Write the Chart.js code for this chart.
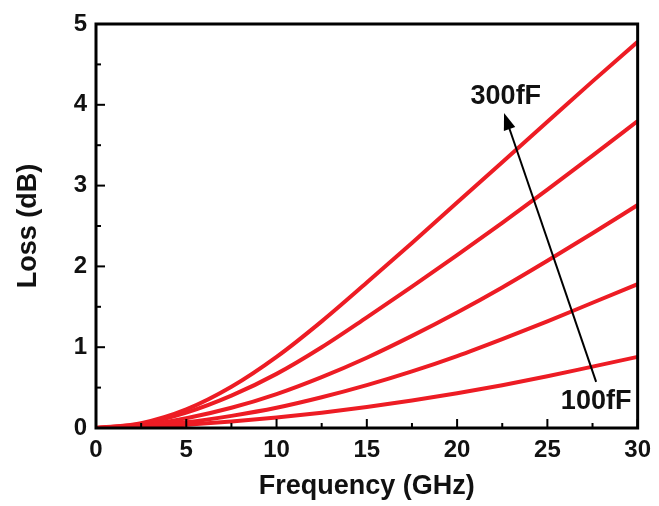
<!DOCTYPE html>
<html>
<head>
<meta charset="utf-8">
<script src="https://cdn.jsdelivr.net/npm/chart.js@4/dist/chart.umd.min.js"></script>
<style>
    body { margin: 0; background: #fff; }
    #wrap { width: 659px; height: 506px; }
</style>
</head>
<body>
<div id="wrap"><canvas id="chart-loss" width="659" height="506"></canvas></div>
<script>
// frequency points (GHz)
const freq = [0, 2.5, 5, 7.5, 10, 12.5, 15, 17.5, 20, 22.5, 25, 27.5, 30];

// loss (dB) per capacitance
const loss300 = [0, 0.06, 0.23, 0.51, 0.88, 1.32, 1.80, 2.29, 2.79, 3.29, 3.79, 4.29, 4.78];
const loss250 = [0, 0.05, 0.19, 0.40, 0.67, 1.00, 1.37, 1.75, 2.14, 2.54, 2.95, 3.37, 3.80];
const loss200 = [0, 0.03, 0.12, 0.25, 0.42, 0.63, 0.87, 1.14, 1.43, 1.74, 2.07, 2.41, 2.76];
const loss150 = [0, 0.02, 0.07, 0.15, 0.25, 0.38, 0.53, 0.70, 0.89, 1.10, 1.32, 1.55, 1.78];
const loss100 = [0, 0.01, 0.04, 0.08, 0.13, 0.19, 0.26, 0.34, 0.43, 0.53, 0.64, 0.76, 0.88];

const xTicks = [0, 5, 10, 15, 20, 25, 30];
const yTicks = [0, 1, 2, 3, 4, 5];

// arrow from 100fF up to 300fF, in data units
const arrowFrom = { x: 27.7, y: 0.57 };
const arrowTo = { x: 22.6, y: 3.90 };
const labelTop = { text: '300fF', x: 22.7, y: 4.10 };
const labelBottom = { text: '100fF', x: 27.7, y: 0.33 };

const family = '"Liberation Sans", Arial, sans-serif';
const red = 'rgb(237, 28, 36)';

const toPoints = (ys) => freq.map((f, i) => ({ x: f, y: ys[i] }));

const frame = {
    id: 'frame',
    afterDraw(chart) {
        const ctx = chart.ctx;
        const a = chart.chartArea;
        const xs = chart.scales.x;
        const ys = chart.scales.y;
        ctx.save();
        ctx.strokeStyle = '#000';
        ctx.lineWidth = 3;
        ctx.strokeRect(a.left, a.top, a.right - a.left, a.bottom - a.top);

        // inward ticks, major and minor
        ctx.lineWidth = 2;
        for (let v = 0; v <= 30; v += 2.5) {
            const px = xs.getPixelForValue(v);
            const len = v % 5 === 0 ? 9 : 5;
            ctx.beginPath();
            ctx.moveTo(px, a.bottom);
            ctx.lineTo(px, a.bottom - len);
            ctx.stroke();
        }
        for (let v = 0; v <= 5; v += 0.5) {
            const py = ys.getPixelForValue(v);
            const len = v % 1 === 0 ? 9 : 5;
            ctx.beginPath();
            ctx.moveTo(a.left, py);
            ctx.lineTo(a.left + len, py);
            ctx.stroke();
        }

        // arrow
        const x1 = xs.getPixelForValue(arrowFrom.x), y1 = ys.getPixelForValue(arrowFrom.y);
        const x2 = xs.getPixelForValue(arrowTo.x), y2 = ys.getPixelForValue(arrowTo.y);
        const ang = Math.atan2(y2 - y1, x2 - x1);
        const head = 17, half = 6;
        ctx.strokeStyle = '#000';
        ctx.fillStyle = '#000';
        ctx.lineWidth = 2;
        ctx.beginPath();
        ctx.moveTo(x1, y1);
        ctx.lineTo(x2 - Math.cos(ang) * head * 0.8, y2 - Math.sin(ang) * head * 0.8);
        ctx.stroke();
        ctx.beginPath();
        ctx.moveTo(x2, y2);
        ctx.lineTo(x2 - Math.cos(ang) * head - Math.sin(ang) * half, y2 - Math.sin(ang) * head + Math.cos(ang) * half);
        ctx.lineTo(x2 - Math.cos(ang) * head + Math.sin(ang) * half, y2 - Math.sin(ang) * head - Math.cos(ang) * half);
        ctx.closePath();
        ctx.fill();

        // labels
        ctx.font = 'bold 27px ' + family;
        ctx.fillStyle = '#111';
        ctx.textAlign = 'center';
        ctx.textBaseline = 'middle';
        [labelTop, labelBottom].forEach((l) => {
            ctx.fillText(l.text, xs.getPixelForValue(l.x), ys.getPixelForValue(l.y));
        });
        ctx.restore();
    },
};

new Chart(document.getElementById('chart-loss'), {
    type: 'line',
    data: {
        datasets: [loss300, loss250, loss200, loss150, loss100].map((ys) => ({
            data: toPoints(ys),
            borderColor: red,
            borderWidth: 4,
            pointRadius: 0,
            fill: false,
            tension: 0.4,
            cubicInterpolationMode: 'monotone',
        })),
    },
    options: {
        responsive: false,
        animation: false,
        layout: { padding: { top: 24, right: 17, left: 0, bottom: 0 } },
        plugins: { legend: { display: false }, tooltip: { enabled: false } },
        scales: {
            x: {
                type: 'linear',
                min: 0,
                max: 30,
                grid: { display: false, drawTicks: false },
                border: { display: false },
                afterBuildTicks: (s) => { s.ticks = xTicks.map((v) => ({ value: v })); },
                afterFit: (s) => { s.height = 78; },
                ticks: { color: '#111', font: { family, size: 24, weight: 'bold' }, padding: 8 },
                title: {
                    display: true,
                    text: 'Frequency (GHz)',
                    color: '#111',
                    font: { family, size: 27, weight: 'bold' },
                    padding: { top: 0, bottom: 3 },
                },
            },
            y: {
                min: 0,
                max: 5,
                grid: { display: false, drawTicks: false },
                border: { display: false },
                afterBuildTicks: (s) => { s.ticks = yTicks.map((v) => ({ value: v })); },
                afterFit: (s) => { s.width = 96; },
                ticks: { color: '#111', font: { family, size: 24, weight: 'bold' }, padding: 9 },
                title: {
                    display: true,
                    text: 'Loss (dB)',
                    color: '#111',
                    font: { family, size: 27, weight: 'bold' },
                    padding: { top: 12, bottom: 0 },
                },
            },
        },
    },
    plugins: [frame],
});
</script>
</body>
</html>
